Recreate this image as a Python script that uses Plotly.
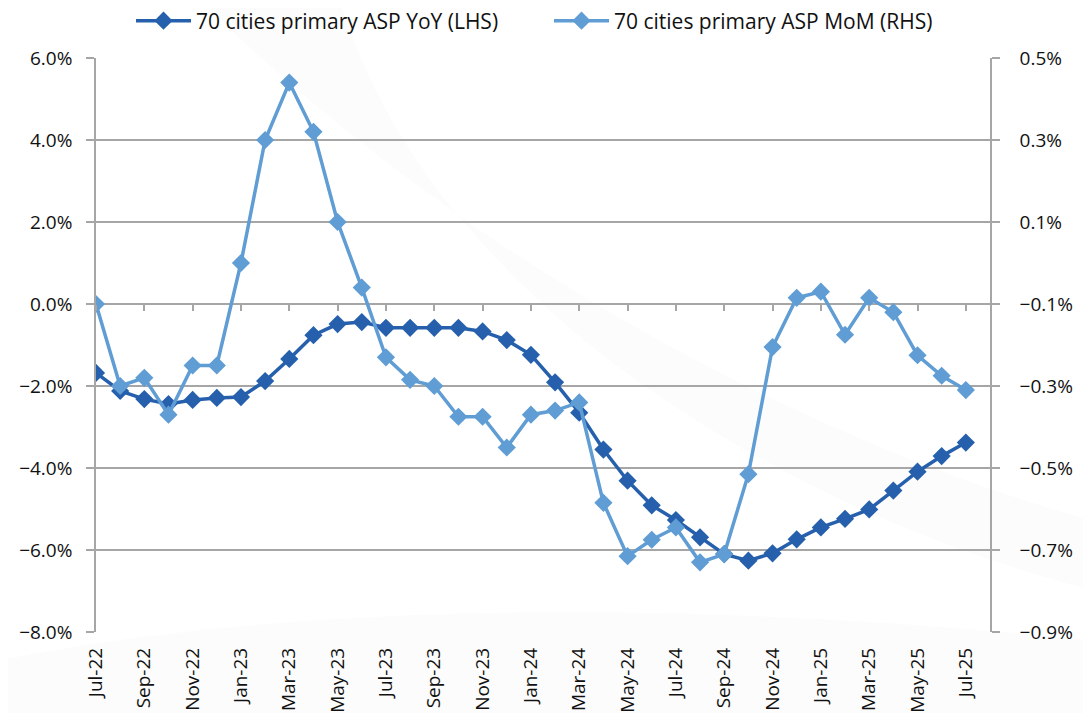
import plotly.graph_objects as go

months = ["Jul-22","Aug-22","Sep-22","Oct-22","Nov-22","Dec-22",
          "Jan-23","Feb-23","Mar-23","Apr-23","May-23","Jun-23",
          "Jul-23","Aug-23","Sep-23","Oct-23","Nov-23","Dec-23",
          "Jan-24","Feb-24","Mar-24","Apr-24","May-24","Jun-24",
          "Jul-24","Aug-24","Sep-24","Oct-24","Nov-24","Dec-24",
          "Jan-25","Feb-25","Mar-25","Apr-25","May-25","Jun-25","Jul-25"]

yoy = [-1.68,-2.12,-2.32,-2.44,-2.34,-2.29,-2.27,-1.88,-1.34,-0.76,-0.49,-0.44,
       -0.58,-0.58,-0.58,-0.58,-0.67,-0.88,-1.24,-1.91,-2.65,-3.55,-4.31,-4.91,
       -5.27,-5.69,-6.10,-6.26,-6.08,-5.74,-5.45,-5.24,-5.01,-4.55,-4.09,-3.71,-3.38]

mom = [-0.10,-0.30,-0.28,-0.37,-0.25,-0.25,0.00,0.30,0.44,0.32,0.10,-0.06,
       -0.23,-0.285,-0.30,-0.375,-0.375,-0.45,-0.37,-0.36,-0.34,-0.585,-0.715,-0.675,
       -0.645,-0.73,-0.71,-0.515,-0.205,-0.085,-0.07,-0.175,-0.085,-0.12,-0.225,-0.275,-0.31]

tick_labels = months[::2]

name_yoy = "70 cities primary ASP YoY (LHS)"
name_mom = "70 cities primary ASP MoM (RHS)"

dark = "#2660ad"
light = "#5f9dd4"
grid = "#a6a6a6"
font = "Open Sans"
txt = "#111111"

fig = go.Figure()
fig.add_trace(go.Scatter(x=months, y=yoy, name=name_yoy, mode="lines+markers",
                         line=dict(color=dark, width=3.5),
                         marker=dict(symbol="diamond", size=14, color=dark),
                         yaxis="y", xaxis="x"))
fig.add_trace(go.Scatter(x=months, y=mom, name=name_mom, mode="lines+markers",
                         line=dict(color=light, width=3.5),
                         marker=dict(symbol="diamond", size=14, color=light),
                         yaxis="y2", xaxis="x"))

# page has an 8px body margin; figure is sized so that the page is 1091x721
OFF = 8
W, H = 1091 - 2 * OFF, 721 - 2 * OFF
PL, PR, PT, PB = 96, 990, 58, 632          # plot area in page pixels
L, T = PL - OFF, PT - OFF
R = W - (PR - OFF)
B = H - (PB - OFF)
pw, ph = PR - PL, PB - PT

def px(xp):
    return (xp - PL) / pw

def py(yp):
    return (PB - yp) / ph

# faint background swoosh
sw1 = (f"M {px(200)} {py(0)} C {px(450)} {py(250)}, {px(800)} {py(440)}, {px(1091)} {py(520)} "
       f"L {px(1091)} {py(590)} C {px(780)} {py(510)}, {px(430)} {py(300)}, {px(340)} {py(0)} Z")
sw2 = (f"M {px(0)} {py(660)} C {px(300)} {py(600)}, {px(700)} {py(600)}, {px(1091)} {py(640)} "
       f"L {px(1091)} {py(721)} L {px(0)} {py(721)} Z")
fig.add_shape(type="path", path=sw1, xref="paper", yref="paper", layer="below",
              fillcolor="rgba(0,0,0,0.012)", line=dict(width=0))
fig.add_shape(type="path", path=sw2, xref="paper", yref="paper", layer="below",
              fillcolor="rgba(0,0,0,0.01)", line=dict(width=0))

fig.update_layout(
    width=W, height=H,
    margin=dict(l=L, r=R, t=T, b=B, pad=0, autoexpand=False),
    paper_bgcolor="white", plot_bgcolor="rgba(0,0,0,0)",
    font=dict(family=font, size=19, color=txt),
    showlegend=True,
    legend=dict(orientation="h", xref="container", yref="container",
                x=123 / W, xanchor="left", y=1 - 13 / H, yanchor="middle",
                font=dict(size=21, family=font, color=txt), itemwidth=55,
                entrywidth=348, entrywidthmode="pixels",
                bgcolor="rgba(0,0,0,0)", traceorder="normal"),
    xaxis=dict(type="category", range=[0, 37], showgrid=False, zeroline=False,
               showline=False, ticks="", tickmode="array", tickvals=tick_labels,
               ticktext=tick_labels, tickangle=-90, tickfont=dict(size=19, family=font, color=txt),
               ticklabelstandoff=11, automargin=False),
    xaxis2=dict(type="category", overlaying="x", matches="x", anchor="free",
                position=8 / 14, showgrid=False, zeroline=False, showline=False,
                ticks="outside", ticklen=6, tickcolor=grid, tickwidth=1.5,
                tickmode="array", tickvals=tick_labels, showticklabels=False,
                automargin=False),
    yaxis=dict(range=[-8, 6], dtick=2, tick0=-8, tickformat=".1f", ticksuffix="%",
               showgrid=True, gridcolor=grid, gridwidth=1.5, zeroline=False,
               showline=True, linecolor=grid, linewidth=1.5,
               ticks="outside", ticklen=8, tickcolor=grid, tickwidth=1.5,
               ticklabelstandoff=10, automargin=False,
               tickfont=dict(size=19, family=font, color=txt)),
    yaxis2=dict(range=[-0.9, 0.5], dtick=0.2, tick0=-0.9, tickformat=".1f", ticksuffix="%",
                overlaying="y", side="right", showgrid=False, zeroline=False,
                showline=True, linecolor=grid, linewidth=1.5,
                ticks="outside", ticklen=8, tickcolor=grid, tickwidth=1.5,
                ticklabelstandoff=16, automargin=False,
                tickfont=dict(size=19, family=font, color=txt)),
)

# invisible trace to make xaxis2 render its ticks
fig.add_trace(go.Scatter(x=months, y=yoy, xaxis="x2", yaxis="y", mode="lines",
                         line=dict(width=0), opacity=0, showlegend=False, hoverinfo="skip"))

fig.write_html("out.html")
